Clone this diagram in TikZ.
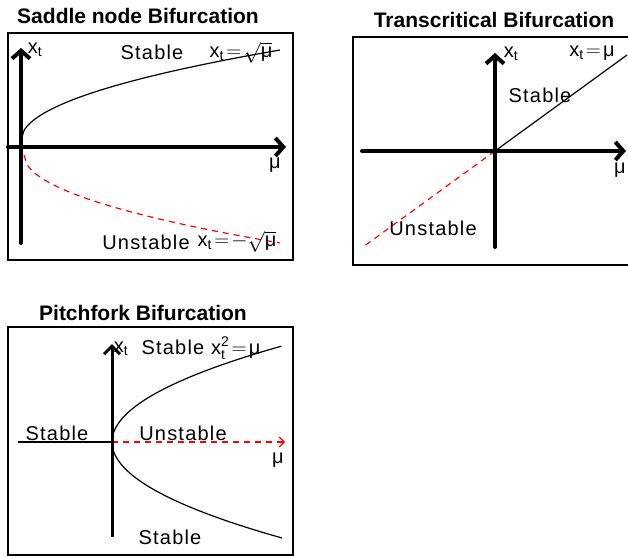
\documentclass[tikz,border=0pt]{standalone}
\usepackage{amsmath}
\usepackage{fontspec}
\setmainfont{Liberation Sans}
\newfontfamily\lbl[LetterSpace=6]{Liberation Sans}
\usetikzlibrary{arrows.meta}
\begin{document}
\begin{tikzpicture}[x=1pt,y=-1pt,
  frame/.style={draw, line width=1.2pt},
  ttl/.style={font=\fontsize{21}{23}\bfseries\selectfont, inner sep=0},
  lab/.style={font=\fontsize{20}{22}\lbl\selectfont, inner sep=0},
  axis/.style={line width=4pt, line cap=round, -{Straight Barb[length=8pt, width=18pt]}},
  thinaxis/.style={line width=3pt, -{Straight Barb[length=8pt, width=16pt]}},
  stab/.style={line width=1.2pt},
  unstab/.style={line width=1.2pt, red, dash pattern=on 6pt off 5pt}]
\useasboundingbox (0,0) rectangle (628,556);
\clip (0,0) rectangle (628,556);

% ---------- Saddle node ----------
\node[ttl] (t1) at (138,16) {Saddle node Bifurcation};
\draw[frame] (8,33) rectangle (293,260);
\coordinate (a1l) at (8,147);
\coordinate (a1r) at (286,147);
\coordinate (a1b) at (21,243);
\coordinate (a1t) at (21,48);
\draw[stab] plot[domain=0:1, samples=80] ({21+259*\x},{140-90*sqrt(\x)});
\draw[unstab] plot[domain=0:1, samples=80] ({24+256*\x},{155+88*sqrt(\x)});
\draw[axis] (a1l) -- (a1r);
\draw[axis] (a1b) -- (a1t);
\node[lab] (x1) at (35,50) {$\text{x}_{\text{t}}$};
\node[lab] (s1) at (152,52) {Stable};
\node[lab] (e1) at (241,53) {$\text{x}_{\text{t}}\mkern2mu{=}\mkern2mu\sqrt{\text{μ}}$};
\node[lab] (m1) at (275,165) {μ};
\node[lab] (u1) at (146,242) {Unstable};
\node[lab] (f1) at (237,242) {$\text{x}_{\text{t}}\mkern2mu{=}\mkern2mu{-}\sqrt{\text{μ}}$};

% ---------- Transcritical ----------
\node[ttl] (t2) at (494,20) {Transcritical Bifurcation};
\draw[frame] (353,37) rectangle (640,265);
\coordinate (o2) at (495,151);
\coordinate (a2l) at (362,151);
\coordinate (a2r) at (626,151);
\coordinate (a2b) at (495,247);
\coordinate (a2t) at (495,53);
\coordinate (p2) at (627,55);
\coordinate (n2) at (363,247);
\draw[stab] (o2) -- (p2);
\draw[unstab] (o2) -- (n2);
\draw[axis] (a2l) -- (a2r);
\draw[axis] (a2b) -- (a2t);
\node[lab] (x2) at (511,54) {$\text{x}_{\text{t}}$};
\node[lab] (e2) at (592,53) {$\text{x}_{\text{t}}\mkern2mu{=}\mkern2mu\text{μ}$};
\node[lab] (s2) at (540,95) {Stable};
\node[lab] (u2) at (433,228) {Unstable};
\node[lab] (m2) at (620,170) {μ};

% ---------- Pitchfork ----------
\node[ttl] (t3) at (143,313) {Pitchfork Bifurcation};
\draw[frame] (8,327) rectangle (293,555);
\coordinate (o3) at (112,442);
\coordinate (l3) at (18,442);
\coordinate (r3) at (285,442);
\coordinate (a3b) at (112,537);
\coordinate (a3t) at (112,344);
\draw[stab] plot[domain=-1:1, samples=100] ({112+170*\x*\x},{442-96*\x});
\draw[stab] (l3) -- (o3);
\draw[unstab, -{Straight Barb[length=5pt, width=10pt]}] (o3) -- (r3);
\draw[thinaxis] (a3b) -- (a3t);
\node[lab] (x3) at (121,349) {$\text{x}_{\text{t}}$};
\node[lab] (e3) at (201,348) {Stable $\text{x}_{\text{t}}^{\text{2}}\mkern2mu{=}\mkern2mu\text{μ}$};
\node[lab] (s3a) at (57,433) {Stable};
\node[lab] (u3) at (183,433) {Unstable};
\node[lab] (m3) at (278,460) {μ};
\node[lab] (s3b) at (170,537) {Stable};
\end{tikzpicture}
\end{document}
